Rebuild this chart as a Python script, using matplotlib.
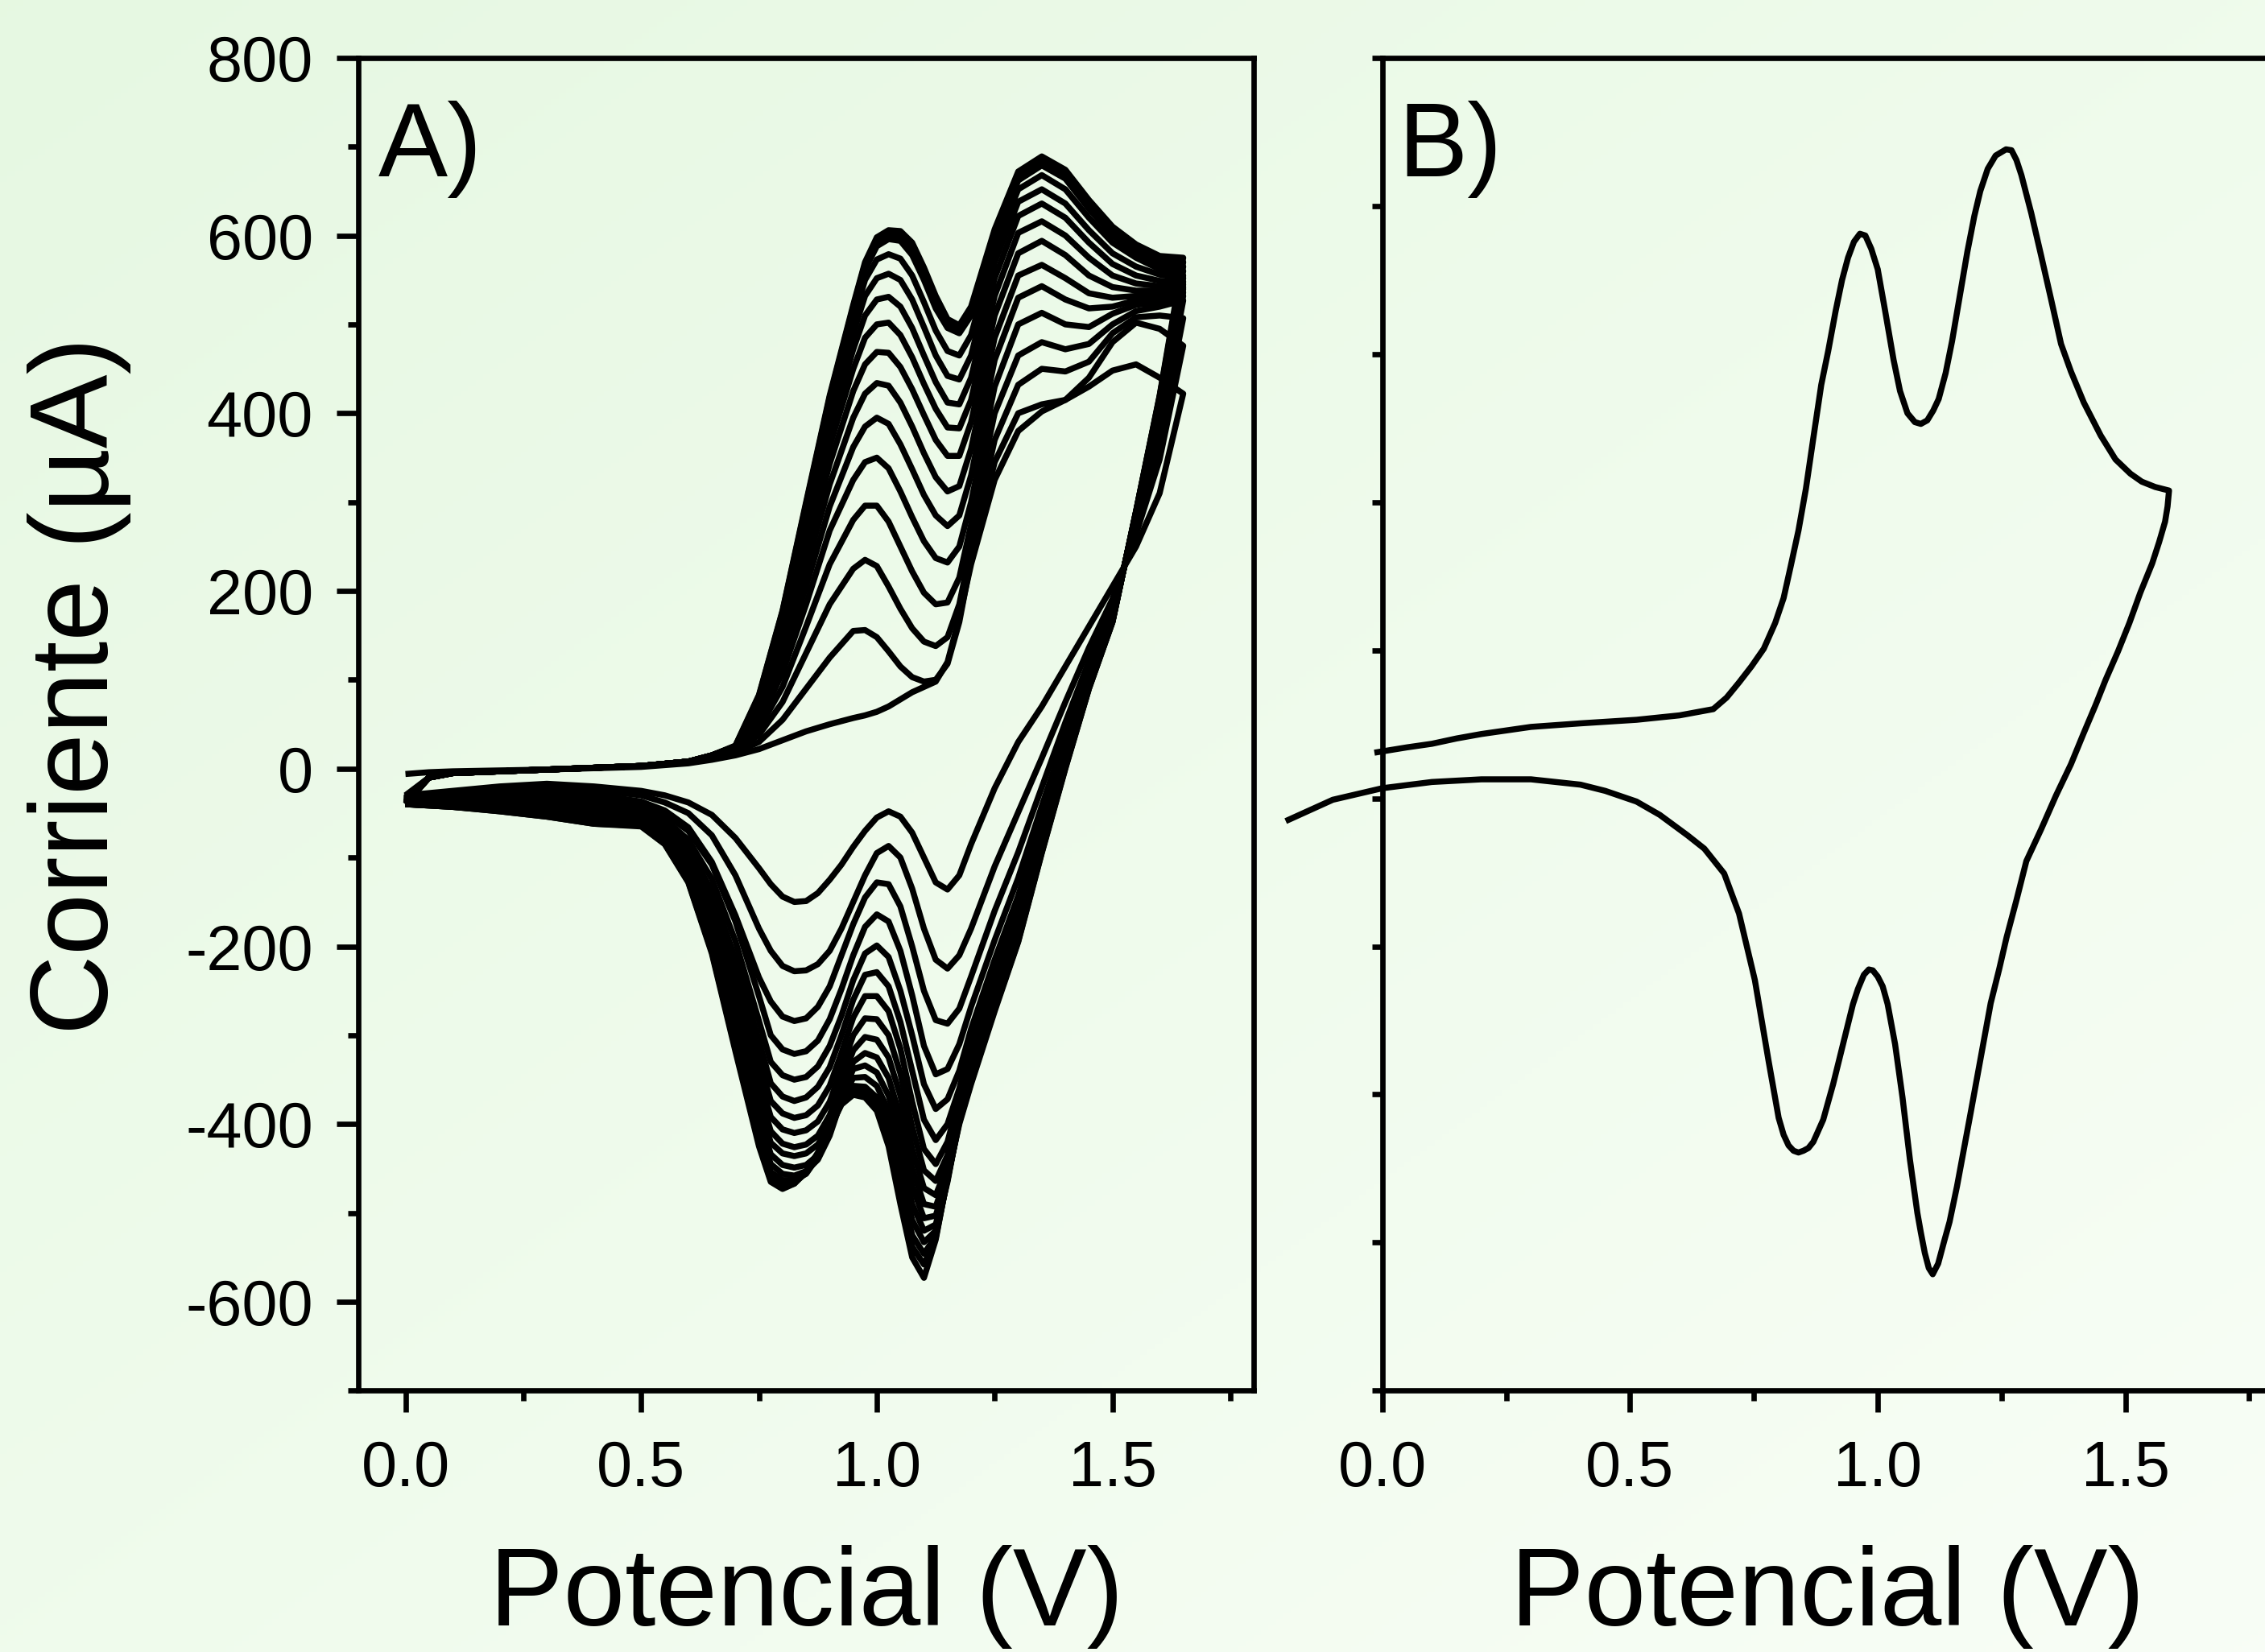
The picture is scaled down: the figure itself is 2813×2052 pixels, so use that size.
import matplotlib
matplotlib.use("Agg")
import matplotlib.pyplot as plt
import numpy as np
from matplotlib.ticker import MultipleLocator, FixedLocator

plt.rcParams["font.family"] = ["Liberation Sans", "DejaVu Sans"]
plt.rcParams["axes.unicode_minus"] = False

# ---------------- panel A: 16 successive voltammetric cycles ----------------
# potential grid of the anodic (forward) sweep, V
potential_fwd = [0.00, 0.05, 0.10, 0.30, 0.50, 0.60, 0.65, 0.70, 0.75, 0.80, 0.85,
                 0.90, 0.95, 0.975, 1.00, 1.025, 1.05, 1.075, 1.10, 1.125, 1.15,
                 1.175, 1.20, 1.25, 1.30, 1.35, 1.40, 1.45, 1.50, 1.55, 1.60, 1.65]

# potential grid of the cathodic (reverse) sweep, V
potential_rev = [1.65, 1.60, 1.55, 1.50, 1.45, 1.40, 1.35, 1.30, 1.25, 1.20, 1.175,
                 1.15, 1.125, 1.10, 1.075, 1.05, 1.025, 1.00, 0.975, 0.95, 0.925,
                 0.90, 0.875, 0.85, 0.825, 0.80, 0.775, 0.75, 0.70, 0.65, 0.60,
                 0.55, 0.50, 0.40, 0.30, 0.20, 0.10, 0.00]

# anodic current of each cycle on potential_fwd, uA
current_fwd = [
    [-6, -4, -3, -1, 2, 6, 10, 15, 22, 32, 42, 50, 57, 60, 64, 70, 78, 86, 92, 98, 120, 170, 230, 325, 380, 402, 415, 430, 448, 455, 440, 422],
    [-30, -10, -5, -1, 3, 8, 12, 18, 30, 55, 90, 125, 155, 156, 148, 132, 115, 103, 98, 100, 118, 165, 235, 345, 400, 410, 415, 440, 480, 502, 495, 476],
    [-32, -10, -5, -1, 3, 8, 13, 20, 38, 75, 130, 185, 225, 235, 228, 205, 180, 158, 143, 138, 148, 185, 250, 370, 432, 450, 447, 458, 490, 508, 510, 507],
    [-33, -10, -5, -1, 3, 8, 13, 21, 45, 92, 160, 230, 280, 296, 296, 278, 250, 222, 198, 185, 187, 215, 275, 400, 465, 480, 472, 478, 500, 515, 520, 527],
    [-34, -10, -5, -1, 3, 8, 13, 22, 52, 108, 185, 268, 325, 345, 350, 338, 312, 283, 256, 237, 232, 250, 300, 430, 500, 513, 500, 497, 512, 522, 525, 532],
    [-35, -10, -5, -1, 3, 8, 13, 22, 58, 122, 205, 295, 362, 385, 395, 388, 365, 337, 308, 285, 273, 285, 330, 460, 530, 543, 528, 518, 520, 527, 530, 536],
    [-36, -10, -5, -1, 3, 8, 14, 23, 63, 135, 225, 320, 395, 422, 434, 431, 412, 385, 355, 328, 312, 318, 360, 485, 555, 567, 552, 535, 530, 532, 534, 540],
    [-37, -10, -5, -1, 3, 8, 14, 23, 67, 145, 243, 343, 425, 455, 469, 468, 452, 427, 398, 370, 352, 352, 390, 510, 580, 594, 578, 555, 542, 538, 538, 542],
    [-37, -10, -5, -1, 3, 8, 14, 24, 71, 153, 258, 363, 450, 485, 500, 502, 488, 463, 433, 405, 384, 383, 415, 532, 603, 616, 600, 575, 555, 546, 543, 545],
    [-38, -10, -5, -1, 3, 8, 14, 24, 74, 160, 270, 380, 472, 510, 528, 531, 520, 496, 465, 435, 412, 410, 440, 552, 622, 636, 620, 592, 568, 555, 549, 548],
    [-38, -10, -5, -1, 3, 8, 15, 25, 77, 166, 280, 395, 490, 532, 552, 557, 550, 528, 497, 465, 442, 438, 465, 570, 638, 652, 636, 606, 580, 565, 556, 552],
    [-39, -10, -5, -1, 3, 8, 15, 25, 79, 170, 288, 405, 505, 550, 573, 579, 574, 555, 525, 493, 470, 465, 488, 585, 652, 668, 652, 620, 592, 575, 562, 555],
    [-39, -10, -5, -1, 3, 8, 15, 25, 80, 173, 293, 412, 515, 562, 588, 596, 594, 578, 550, 518, 496, 490, 510, 598, 662, 679, 664, 630, 600, 580, 566, 560],
    [-40, -10, -5, -1, 3, 8, 15, 25, 81, 175, 296, 415, 518, 566, 592, 600, 599, 584, 556, 524, 500, 493, 514, 601, 666, 683, 668, 633, 603, 583, 569, 565],
    [-40, -10, -5, -1, 3, 8, 15, 25, 82, 177, 298, 418, 520, 568, 595, 603, 602, 588, 560, 528, 503, 496, 517, 604, 669, 686, 671, 636, 606, 586, 572, 570],
    [-40, -10, -5, -1, 3, 8, 15, 26, 83, 178, 300, 420, 522, 570, 598, 606, 605, 592, 564, 532, 506, 499, 520, 607, 672, 689, 674, 640, 610, 590, 577, 575],
]

# cathodic current of each cycle on potential_rev, uA
current_rev = [
    [422, 310, 250, 205, 160, 115, 70, 30, -22, -85, -120, -136, -128, -100, -72, -54, -48, -55, -70, -88, -108, -125, -140, -149, -150, -144, -130, -112, -78, -52, -38, -30, -25, -20, -17, -20, -25, -30],
    [476, 348, 264, 191, 136, 75, 12, -49, -110, -180, -210, -225, -215, -180, -135, -100, -87, -95, -120, -150, -180, -205, -220, -227, -228, -222, -205, -180, -120, -75, -50, -38, -30, -24, -21, -23, -27, -32],
    [507, 370, 272, 183, 121, 52, -21, -94, -160, -234, -270, -287, -283, -250, -200, -155, -130, -128, -145, -175, -210, -245, -268, -281, -284, -279, -262, -235, -165, -105, -66, -47, -37, -29, -25, -26, -29, -33],
    [527, 385, 277, 178, 112, 37, -42, -123, -193, -268, -310, -338, -344, -312, -255, -205, -172, -164, -178, -210, -248, -282, -306, -318, -321, -316, -300, -256, -172, -108, -70, -51, -42, -34, -29, -29, -31, -34],
    [532, 395, 281, 174, 106, 26, -57, -143, -215, -293, -340, -372, -383, -355, -300, -250, -212, -199, -208, -238, -278, -312, -335, -347, -350, -345, -330, -284, -194, -124, -80, -57, -46, -38, -33, -32, -33, -35],
    [536, 401, 283, 172, 102, 20, -67, -157, -230, -309, -360, -400, -418, -395, -340, -285, -245, -229, -232, -260, -300, -336, -358, -370, -374, -369, -354, -306, -214, -138, -88, -62, -50, -42, -36, -35, -35, -36],
    [540, 406, 285, 170, 99, 15, -74, -166, -240, -320, -370, -420, -445, -428, -375, -315, -273, -256, -256, -280, -320, -357, -379, -390, -393, -388, -374, -327, -233, -151, -96, -67, -53, -46, -39, -37, -37, -37],
    [542, 409, 286, 169, 97, 12, -79, -173, -248, -328, -378, -435, -464, -452, -403, -343, -300, -282, -281, -300, -338, -375, -397, -407, -410, -406, -392, -346, -250, -162, -103, -71, -56, -49, -42, -39, -38, -38],
    [545, 411, 287, 168, 96, 9, -82, -177, -253, -333, -383, -447, -480, -472, -428, -368, -325, -305, -302, -317, -353, -390, -413, -423, -426, -422, -408, -363, -265, -172, -109, -74, -58, -52, -45, -41, -39, -38],
    [548, 413, 288, 167, 94, 7, -85, -181, -258, -339, -388, -455, -493, -490, -450, -392, -348, -325, -320, -330, -363, -400, -423, -433, -436, -433, -421, -377, -278, -181, -114, -77, -60, -55, -47, -43, -40, -39],
    [552, 415, 288, 167, 93, 5, -88, -185, -261, -343, -391, -460, -503, -506, -470, -413, -368, -342, -334, -338, -370, -410, -435, -446, -449, -446, -434, -390, -288, -188, -118, -79, -61, -57, -49, -44, -41, -39],
    [555, 416, 289, 166, 92, 4, -90, -188, -263, -345, -393, -463, -513, -520, -490, -433, -385, -357, -347, -348, -373, -413, -440, -453, -458, -456, -445, -402, -298, -195, -121, -81, -62, -59, -51, -46, -42, -40],
    [560, 417, 289, 166, 92, 3, -91, -190, -267, -348, -395, -465, -520, -533, -508, -452, -400, -370, -358, -357, -375, -408, -437, -456, -463, -463, -454, -412, -306, -200, -124, -83, -63, -60, -52, -47, -42, -40],
    [565, 418, 289, 166, 91, 2, -93, -192, -269, -351, -397, -462, -526, -546, -525, -468, -410, -377, -363, -361, -376, -406, -435, -455, -466, -468, -460, -419, -312, -204, -126, -84, -64, -61, -53, -47, -43, -40],
    [570, 419, 290, 165, 90, 1, -94, -194, -271, -353, -398, -461, -528, -558, -538, -480, -418, -381, -367, -364, -377, -405, -433, -454, -467, -471, -463, -422, -315, -206, -127, -84, -64, -62, -54, -48, -43, -40],
    [575, 420, 290, 165, 90, 0, -95, -195, -273, -355, -400, -460, -530, -573, -550, -490, -425, -385, -370, -367, -378, -405, -432, -453, -467, -473, -465, -425, -318, -208, -128, -85, -65, -62, -54, -48, -43, -40],
]

# ---------------- panel B: single cycle ----------------
potential_b_fwd = [-0.016, 0.05, 0.10, 0.15, 0.20, 0.30, 0.40, 0.513, 0.60, 0.668, 0.695,
                   0.72, 0.745, 0.77, 0.793, 0.81, 0.824, 0.84, 0.855, 0.87, 0.886,
                   0.90, 0.915, 0.928, 0.94, 0.952, 0.964, 0.975, 0.987, 1.00, 1.015,
                   1.032, 1.045, 1.06, 1.075, 1.087, 1.10, 1.112, 1.123, 1.137, 1.15,
                   1.165, 1.181, 1.195, 1.207, 1.222, 1.238, 1.259, 1.27, 1.28, 1.29,
                   1.31, 1.33, 1.35, 1.37, 1.39, 1.416, 1.45, 1.48, 1.51, 1.533,
                   1.56, 1.588]
current_b_fwd = [18, 24, 28, 34, 39, 47, 51, 55, 60, 67, 80,
                 97, 115, 135, 164, 192, 227, 268, 315, 372, 432,
                 470, 515, 550, 575, 593, 602, 600, 585, 562, 515,
                 460, 425, 400, 390, 388, 392, 403, 416, 445, 481,
                 530, 582, 622, 650, 675, 690, 697, 696, 685, 668,
                 625, 577, 528, 478, 447, 412, 375, 348, 332, 323,
                 317, 313]

potential_b_rev = [1.588, 1.585, 1.58, 1.568, 1.554, 1.53, 1.508, 1.485, 1.46, 1.44,
                   1.415, 1.39, 1.36, 1.33, 1.30, 1.28, 1.26, 1.245, 1.228, 1.208,
                   1.187, 1.16, 1.145, 1.134, 1.122, 1.111, 1.103, 1.095, 1.087, 1.08,
                   1.065, 1.05, 1.035, 1.02, 1.01, 1.00, 0.99, 0.982, 0.972, 0.96,
                   0.95, 0.93, 0.91, 0.89, 0.87, 0.86, 0.85, 0.84, 0.83, 0.82,
                   0.81, 0.80, 0.78, 0.752, 0.72, 0.69, 0.65, 0.616, 0.56, 0.513,
                   0.45, 0.40, 0.30, 0.20, 0.10, 0.00, -0.10, -0.195]
current_b_rev = [313, 295, 278, 255, 231, 198, 164, 132, 100, 72,
                 39, 5, -30, -68, -104, -148, -190, -226, -264, -325,
                 -389, -470, -510, -532, -557, -569, -562, -545, -522, -500,
                 -440, -370, -310, -265, -245, -234, -227, -226, -232, -248,
                 -265, -310, -355, -395, -420, -427, -430, -432, -430, -424,
                 -412, -393, -330, -238, -163, -118, -90, -75, -52, -37,
                 -25, -18, -12, -12, -15, -22, -35, -59]

x_label = "Potencial (V)"
y_label = "Corriente (µA)"

# ---------------- figure ----------------
fig = plt.figure(figsize=(2813 / 300, 2052 / 300), dpi=300)

# soft green diagonal background
bg = fig.add_axes([0, 0, 1, 1], zorder=-10)
gx, gy = np.meshgrid(np.linspace(0, 1, 300), np.linspace(0, 1, 300))
t = ((gx + gy) / 2)[..., None]
c_start = np.array([0.902, 0.973, 0.886])
c_end = np.array([0.973, 0.996, 0.965])
bg.imshow(c_start * (1 - t) + c_end * t, extent=[0, 1, 0, 1], aspect="auto", origin="upper")
bg.axis("off")

ax_a = fig.add_axes([0.1582, 0.1582, 0.3954, 0.8068])
ax_b = fig.add_axes([0.6103, 0.1582, 0.3937, 0.8068])

line_kw = dict(color="black", lw=1.8, solid_joinstyle="round", solid_capstyle="butt")

for fwd, rev in zip(current_fwd, current_rev):
    ax_a.plot(potential_fwd + potential_rev, fwd + rev, **line_kw)

ax_b.plot(potential_b_fwd + potential_b_rev, current_b_fwd + current_b_rev,
          clip_on=False, **line_kw)

for ax in (ax_a, ax_b):
    ax.set_facecolor("none")
    ax.set_ylim(-700, 800)
    for sp in ax.spines.values():
        sp.set_linewidth(1.6)
    ax.xaxis.set_major_locator(MultipleLocator(0.5))
    ax.xaxis.set_minor_locator(MultipleLocator(0.25))
    ax.tick_params(which="both", direction="out", top=False, right=False, width=1.6,
                   labelsize=19)
    ax.tick_params(which="major", length=6.5)
    ax.tick_params(which="minor", length=3.2)
    ax.tick_params(axis="x", pad=8)
    ax.tick_params(axis="y", pad=7)

ax_a.set_xlim(-0.1, 1.8)
ax_a.yaxis.set_major_locator(MultipleLocator(200))
ax_a.yaxis.set_minor_locator(MultipleLocator(100))

ax_b.set_xlim(0, 1.8)
ax_b.yaxis.set_major_locator(FixedLocator(np.linspace(-700, 800, 10)))
ax_b.tick_params(axis="y", which="major", length=3.2, labelleft=False)

ax_a.text(0.022, 0.968, "A)", transform=ax_a.transAxes, fontsize=31, va="top", ha="left")
ax_b.text(0.018, 0.968, "B)", transform=ax_b.transAxes, fontsize=31, va="top", ha="left")

fig.text(0.356, 0.016, x_label, ha="center", va="baseline", fontsize=33)
fig.text(0.807, 0.016, x_label, ha="center", va="baseline", fontsize=33)
fig.text(0.035, 0.585, y_label, rotation=90, ha="center", va="center", fontsize=33)

fig.savefig("out.png", dpi=300)
